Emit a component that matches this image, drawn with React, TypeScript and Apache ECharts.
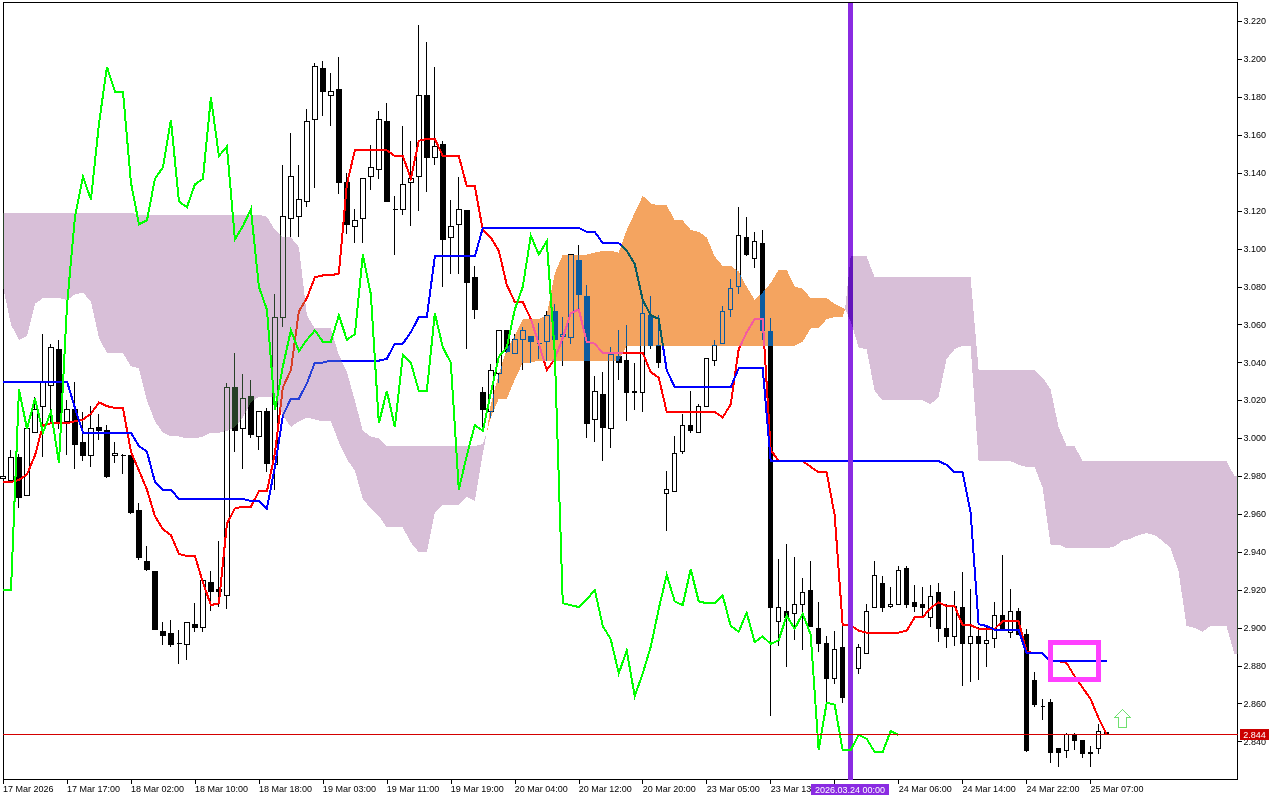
import React, { useEffect, useRef } from "react";
import * as echarts from "echarts";

const opens = [
  2.978, 2.977, 2.989, 2.969, 3.002, 3.016, 3.027, 3.046, 3.008, 3.014,
  2.997, 2.990, 3.005, 3.003, 2.990, 2.990, 2.990, 2.961, 2.934, 2.929,
  2.897, 2.896, 2.891, 2.890, 2.901, 2.899, 2.923, 2.919, 2.916, 3.026,
  3.004, 3.021, 3.000, 3.013, 2.985, 3.063, 3.115, 3.116, 3.124, 3.167,
  3.194, 3.180, 3.183, 3.134, 3.111, 3.115, 3.137, 3.141, 3.166, 3.120,
  3.120, 3.134, 3.137, 3.180, 3.147, 3.154, 3.105, 3.112, 3.119, 3.084,
  3.023, 3.013, 3.033, 3.056, 3.044, 3.051, 3.053, 3.049, 3.050, 3.066,
  3.053, 3.052, 3.093, 3.074, 3.009, 3.022, 3.004, 3.042, 3.040, 3.023,
  3.023, 3.064, 3.048, 2.970, 2.971, 2.992, 3.006, 3.002, 3.016, 3.040,
  3.049, 3.067, 3.079, 3.105, 3.094, 3.102, 3.056, 2.903, 2.908, 2.907,
  2.912, 2.919, 2.899, 2.891, 2.873, 2.889, 2.864, 2.878, 2.886, 2.910,
  2.923, 2.911, 2.912, 2.931, 2.913, 2.912, 2.905, 2.918, 2.899, 2.895,
  2.910, 2.891, 2.895, 2.891, 2.894, 2.906, 2.897, 2.908, 2.896, 2.872,
  2.858, 2.860, 2.836, 2.835, 2.843, 2.840, 2.833, 2.836, 2.845,
];
const highs = [
  2.979, 2.993, 2.991, 3.004, 3.021, 3.054, 3.049, 3.051, 3.019, 3.029,
  3.013, 3.016, 3.012, 3.006, 2.997, 2.991, 2.990, 2.965, 2.942, 2.929,
  2.902, 2.903, 2.898, 2.902, 2.912, 2.924, 2.929, 2.945, 3.028, 3.044,
  3.033, 3.030, 3.013, 3.015, 3.075, 3.143, 3.160, 3.143, 3.173, 3.197,
  3.198, 3.192, 3.200, 3.139, 3.120, 3.136, 3.154, 3.172, 3.176, 3.127,
  3.164, 3.156, 3.217, 3.208, 3.195, 3.156, 3.125, 3.137, 3.119, 3.090,
  3.026, 3.038, 3.056, 3.056, 3.054, 3.058, 3.053, 3.060, 3.066, 3.070,
  3.063, 3.096, 3.101, 3.080, 3.032, 3.034, 3.047, 3.056, 3.059, 3.039,
  3.074, 3.074, 3.064, 2.982, 3.000, 3.012, 3.024, 3.017, 3.041, 3.051,
  3.069, 3.083, 3.121, 3.116, 3.108, 3.109, 3.063, 2.936, 2.944, 2.937,
  2.926, 2.935, 2.913, 2.895, 2.898, 2.901, 2.870, 2.891, 2.912, 2.935,
  2.927, 2.921, 2.932, 2.932, 2.922, 2.921, 2.922, 2.923, 2.912, 2.919,
  2.929, 2.920, 2.900, 2.901, 2.913, 2.938, 2.920, 2.910, 2.899, 2.876,
  2.862, 2.862, 2.836, 2.844, 2.844, 2.840, 2.837, 2.849, 2.845,
];
const lows = [
  2.978, 2.977, 2.962, 2.969, 3.002, 2.989, 3.007, 3.004, 2.990, 2.983,
  2.987, 2.984, 2.998, 2.978, 2.986, 2.980, 2.959, 2.935, 2.929, 2.898,
  2.890, 2.889, 2.880, 2.882, 2.897, 2.897, 2.908, 2.910, 2.909, 2.992,
  2.983, 2.999, 2.993, 2.981, 2.972, 3.058, 3.105, 3.105, 3.121, 3.131,
  3.169, 3.164, 3.128, 3.107, 3.102, 3.102, 3.130, 3.136, 3.124, 3.096,
  3.117, 3.111, 3.119, 3.129, 3.143, 3.079, 3.086, 3.086, 3.046, 3.062,
  3.005, 3.010, 3.028, 3.044, 3.044, 3.035, 3.039, 3.041, 3.040, 3.032,
  3.037, 3.049, 3.067, 2.999, 2.997, 2.987, 2.994, 3.030, 3.008, 3.014,
  3.013, 3.046, 3.036, 2.950, 2.971, 2.991, 3.002, 3.002, 3.016, 3.037,
  3.049, 3.063, 3.075, 3.095, 3.089, 3.051, 2.853, 2.890, 2.879, 2.893,
  2.888, 2.900, 2.887, 2.860, 2.870, 2.860, 2.860, 2.875, 2.886, 2.910,
  2.908, 2.910, 2.912, 2.910, 2.908, 2.905, 2.900, 2.892, 2.889, 2.890,
  2.869, 2.871, 2.872, 2.879, 2.889, 2.898, 2.894, 2.896, 2.834, 2.858,
  2.851, 2.828, 2.826, 2.831, 2.835, 2.831, 2.826, 2.833, 2.844,
];
const closes = [
  2.979, 2.989, 2.968, 3.004, 3.014, 3.029, 3.047, 3.008, 3.014, 2.996,
  2.990, 3.004, 3.003, 2.979, 2.991, 2.990, 2.960, 2.936, 2.930, 2.898,
  2.895, 2.890, 2.891, 2.902, 2.899, 2.924, 2.918, 2.918, 3.026, 3.003,
  3.020, 3.001, 3.013, 2.986, 3.063, 3.116, 3.137, 3.125, 3.166, 3.195,
  3.182, 3.182, 3.134, 3.112, 3.114, 3.136, 3.142, 3.167, 3.124, 3.120,
  3.133, 3.136, 3.180, 3.147, 3.153, 3.104, 3.111, 3.120, 3.081, 3.067,
  3.014, 3.035, 3.056, 3.045, 3.051, 3.056, 3.050, 3.049, 3.064, 3.051,
  3.054, 3.096, 3.075, 3.007, 3.024, 3.005, 3.043, 3.039, 3.023, 3.024,
  3.065, 3.048, 3.039, 2.972, 2.991, 3.006, 3.003, 3.016, 3.041, 3.048,
  3.066, 3.078, 3.106, 3.096, 3.103, 3.056, 2.910, 2.910, 2.905, 2.912,
  2.918, 2.900, 2.891, 2.873, 2.888, 2.863, 2.868, 2.889, 2.908, 2.927,
  2.910, 2.912, 2.930, 2.912, 2.911, 2.910, 2.916, 2.899, 2.895, 2.911,
  2.891, 2.895, 2.891, 2.893, 2.906, 2.898, 2.908, 2.896, 2.835, 2.859,
  2.858, 2.834, 2.834, 2.843, 2.840, 2.833, 2.834, 2.845, 2.844,
];

const tenkan = [
  2.976, 2.976, 2.977, 2.980, 2.990, 3.006, 3.007, 3.007, 3.007, 3.008,
  3.009, 3.012, 3.018, 3.016, 3.015, 3.015, 2.992, 2.982, 2.972, 2.958,
  2.951, 2.948, 2.938, 2.937, 2.937, 2.923, 2.911, 2.912, 2.954, 2.962,
  2.963, 2.963, 2.971, 2.971, 2.991, 3.026, 3.035, 3.066, 3.073, 3.084,
  3.085, 3.085, 3.086, 3.133, 3.151, 3.151, 3.151, 3.151, 3.151, 3.148,
  3.148, 3.136, 3.156, 3.157, 3.157, 3.148, 3.148, 3.148, 3.132, 3.132,
  3.109, 3.105, 3.098, 3.080, 3.071, 3.071, 3.062, 3.049, 3.035, 3.041,
  3.052, 3.065, 3.067, 3.050, 3.049, 3.044, 3.044, 3.044, 3.044, 3.044,
  3.044, 3.034, 3.031, 3.013, 3.013, 3.013, 3.013, 3.013, 3.013, 3.013,
  3.010, 3.017, 3.046, 3.055, 3.062, 3.062, 2.993, 2.987, 2.987, 2.987,
  2.987, 2.984, 2.981, 2.981, 2.959, 2.901, 2.901, 2.898, 2.897, 2.897,
  2.897, 2.897, 2.897, 2.898, 2.905, 2.905, 2.910, 2.913, 2.911, 2.911,
  2.901, 2.901, 2.899, 2.899, 2.899, 2.903, 2.903, 2.903, 2.887, 2.886,
  2.886, 2.882, 2.882, 2.881, 2.874, 2.868, 2.862, 2.852, 2.844,
];

const kijun = [
  3.029, 3.029, 3.029, 3.029, 3.029, 3.029, 3.029, 3.029, 3.029, 3.015,
  3.002, 3.002, 3.002, 3.002, 3.002, 3.002, 3.002, 2.995, 2.992, 2.976,
  2.972, 2.972, 2.967, 2.967, 2.967, 2.967, 2.967, 2.967, 2.967, 2.967,
  2.967, 2.966, 2.966, 2.962, 2.984, 3.011, 3.020, 3.020, 3.028, 3.039,
  3.039, 3.040, 3.040, 3.040, 3.040, 3.040, 3.040, 3.040, 3.041, 3.049,
  3.049, 3.055, 3.063, 3.063, 3.095, 3.095, 3.095, 3.095, 3.095, 3.095,
  3.110, 3.110, 3.110, 3.110, 3.110, 3.110, 3.110, 3.110, 3.110, 3.110,
  3.110, 3.110, 3.110, 3.108, 3.108, 3.102, 3.102, 3.102, 3.098, 3.091,
  3.072, 3.064, 3.062, 3.035, 3.026, 3.026, 3.026, 3.026, 3.026, 3.026,
  3.026, 3.026, 3.036, 3.036, 3.036, 3.036, 2.987, 2.987, 2.987, 2.987,
  2.987, 2.987, 2.987, 2.987, 2.987, 2.987, 2.987, 2.987, 2.987, 2.987,
  2.987, 2.987, 2.987, 2.987, 2.987, 2.987, 2.987, 2.987, 2.985, 2.981,
  2.981, 2.960, 2.901, 2.900, 2.898, 2.898, 2.898, 2.898, 2.886, 2.886,
  2.886, 2.882, 2.882, 2.882, 2.882, 2.882, 2.882, 2.882, 2.882,
];

const chikou = [
  2.919, 2.919, 3.025, 3.004, 3.020, 3.002, 3.013, 2.986, 3.069, 3.116,
  3.137, 3.125, 3.165, 3.195, 3.182, 3.182, 3.134, 3.112, 3.114, 3.136,
  3.142, 3.167, 3.124, 3.121, 3.133, 3.136, 3.179, 3.148, 3.153, 3.104,
  3.111, 3.120, 3.079, 3.067, 3.014, 3.037, 3.056, 3.045, 3.051, 3.056,
  3.050, 3.050, 3.064, 3.051, 3.054, 3.096, 3.075, 3.007, 3.024, 3.005,
  3.043, 3.039, 3.024, 3.024, 3.065, 3.047, 3.039, 2.972, 2.990, 3.006,
  3.003, 3.023, 3.042, 3.047, 3.067, 3.079, 3.106, 3.096, 3.103, 3.044,
  2.912, 2.911, 2.910, 2.914, 2.919, 2.900, 2.893, 2.875, 2.887, 2.863,
  2.875, 2.889, 2.909, 2.927, 2.913, 2.911, 2.930, 2.913, 2.912, 2.912,
  2.916, 2.900, 2.897, 2.907, 2.892, 2.895, 2.891, 2.893, 2.906, 2.899,
  2.907, 2.896, 2.835, 2.860, 2.859, 2.835, 2.835, 2.843, 2.841, 2.834,
  2.834, 2.845, 2.843,
];

const cloudUpper = [
  3.118, 3.118, 3.118, 3.118, 3.118, 3.118, 3.118, 3.118, 3.118, 3.118,
  3.118, 3.118, 3.118, 3.118, 3.118, 3.118, 3.118, 3.117, 3.117, 3.117,
  3.117, 3.117, 3.117, 3.117, 3.117, 3.117, 3.117, 3.117, 3.117, 3.117,
  3.117, 3.117, 3.117, 3.116, 3.109, 3.105, 3.105, 3.100, 3.064, 3.057,
  3.057, 3.057, 3.043, 3.034, 3.019, 3.003, 3.000, 2.999, 2.995, 2.995,
  2.995, 2.995, 2.995, 2.995, 2.995, 2.995, 2.995, 2.995, 2.995, 2.995,
  2.996, 3.017, 3.033, 3.046, 3.053, 3.062, 3.062, 3.062, 3.064, 3.086,
  3.096, 3.096, 3.096, 3.096, 3.097, 3.098, 3.098, 3.097, 3.109, 3.118,
  3.127, 3.123, 3.122, 3.122, 3.114, 3.114, 3.109, 3.108, 3.105, 3.095,
  3.090, 3.090, 3.087, 3.079, 3.072, 3.076, 3.081, 3.088, 3.088, 3.079,
  3.078, 3.073, 3.073, 3.073, 3.070, 3.068, 3.095, 3.095, 3.095, 3.084,
  3.084, 3.084, 3.084, 3.084, 3.084, 3.084, 3.084, 3.084, 3.084, 3.084,
  3.084, 3.084, 3.035, 3.035, 3.035, 3.035, 3.035, 3.035, 3.035, 3.035,
  3.031, 3.025, 3.005, 2.995, 2.995, 2.987, 2.987, 2.987, 2.987, 2.987,
  2.987, 2.987, 2.987, 2.987, 2.987, 2.987, 2.987, 2.987, 2.987, 2.987,
  2.987, 2.987, 2.987, 2.987, 2.979,
];
const cloudLower = [
  3.079, 3.059, 3.051, 3.053, 3.070, 3.073, 3.073, 3.073, 3.072, 3.075,
  3.076, 3.071, 3.052, 3.044, 3.044, 3.044, 3.037, 3.036, 3.019, 3.008,
  3.002, 3.000, 3.000, 2.999, 2.999, 3.000, 3.002, 3.002, 3.003, 3.005,
  3.010, 3.018, 3.021, 3.021, 3.021, 3.011, 3.005, 3.008, 3.010, 3.009,
  3.008, 3.008, 2.997, 2.988, 2.982, 2.967, 2.962, 2.958, 2.952, 2.952,
  2.952, 2.944, 2.939, 2.939, 2.960, 2.964, 2.964, 2.964, 2.968, 2.966,
  2.991, 3.010, 3.020, 3.020, 3.030, 3.039, 3.039, 3.040, 3.040, 3.040,
  3.040, 3.040, 3.040, 3.040, 3.040, 3.040, 3.040, 3.040, 3.048, 3.048,
  3.048, 3.048, 3.048, 3.048, 3.048, 3.048, 3.048, 3.048, 3.048, 3.048,
  3.048, 3.048, 3.048, 3.048, 3.048, 3.048, 3.048, 3.048, 3.048, 3.048,
  3.050, 3.057, 3.057, 3.062, 3.063, 3.063, 3.061, 3.047, 3.046, 3.024,
  3.019, 3.019, 3.019, 3.019, 3.019, 3.019, 3.017, 3.021, 3.041, 3.046,
  3.048, 3.048, 2.987, 2.987, 2.987, 2.987, 2.987, 2.985, 2.984, 2.984,
  2.973, 2.943, 2.943, 2.941, 2.941, 2.941, 2.941, 2.941, 2.941, 2.942,
  2.945, 2.946, 2.948, 2.949, 2.948, 2.945, 2.941, 2.929, 2.900, 2.899,
  2.897, 2.900, 2.900, 2.900, 2.885,
];

// Where the two senkou spans cross: [bar position, price]
const cloudCrossOne = [60.5, 3.003];
const cloudCrossTwo = [105.3, 3.068];

const xTickBars = [0, 8, 16, 24, 32, 40, 48, 56, 64, 72, 80, 88, 96, 104, 112, 120, 128, 136];
const xTickLabels = [
  "17 Mar 2026", "17 Mar 17:00", "18 Mar 02:00", "18 Mar 10:00", "18 Mar 18:00", "19 Mar 03:00",
  "19 Mar 11:00", "19 Mar 19:00", "20 Mar 04:00", "20 Mar 12:00", "20 Mar 20:00", "23 Mar 05:00",
  "23 Mar 13:00", "", "24 Mar 06:00", "24 Mar 14:00", "24 Mar 22:00", "25 Mar 07:00",
];
const yTicks = [
  2.84, 2.86, 2.88, 2.9, 2.92, 2.94, 2.96, 2.98, 3.0, 3.02,
  3.04, 3.06, 3.08, 3.1, 3.12, 3.14, 3.16, 3.18, 3.2, 3.22,
];

const lastPrice = 2.844;
const eventBar = 106;
const eventLabel = "2026.03.24 00:00";

const GRID_LEFT = 2.5;
const GRID_TOP = 2.5;
const GRID_W = 1235;
const GRID_H = 777;
const X_MAX = GRID_W / 8;
const FONT = '"Liberation Sans", Arial, sans-serif';
const ORANGE_XOR = "#0b5b9f"; // difference with white gives #F4A460
const THISTLE_XOR = "#274027"; // difference with white gives #D8BFD8

// The readings above were taken slightly low against the price scale; these are the reading corrections.
const candleFix = (i: number) => (i < 96 ? 0.001 : i < 138 ? 0.0005 : 0);
const tenkanFix = (i: number) => (i < 104 ? 0.001 : i < 138 ? 0.0005 : 0);
const kijunFix = (i: number) => (i < 128 ? 0.001 : 0.0005);
const chikouFix = (i: number) => (i < 94 ? 0.001 : 0.0005);
const cloudFix = 0.001;

const candleData = opens.map((o, i) => {
  const f = candleFix(i);
  return [i, o + f, closes[i] + f, lows[i] + f, highs[i] + f];
});
const lineData = (values: number[], fix: (i: number) => number) => values.map((v, i) => [i, v + fix(i)]);

const cloudChunks = [
  { from: 0, to: 60, fill: THISTLE_XOR, head: null as number[] | null, tail: cloudCrossOne as number[] | null },
  { from: 61, to: 105, fill: ORANGE_XOR, head: cloudCrossOne as number[] | null, tail: cloudCrossTwo as number[] | null },
  { from: 106, to: 154, fill: THISTLE_XOR, head: cloudCrossTwo as number[] | null, tail: null as number[] | null },
];

function renderCloud(params: any, api: any) {
  const c = cloudChunks[params.dataIndex];
  const pts: number[][] = [];
  if (c.head) pts.push(api.coord(c.head));
  for (let i = c.from; i <= c.to; i++) pts.push(api.coord([i, cloudUpper[i] + cloudFix]));
  if (c.tail) pts.push(api.coord(c.tail));
  else {
    pts.push(api.coord([X_MAX, cloudUpper[c.to] + cloudFix]));
    pts.push(api.coord([X_MAX, cloudLower[c.to] + cloudFix]));
  }
  for (let i = c.to; i >= c.from; i--) pts.push(api.coord([i, cloudLower[i] + cloudFix]));
  return { type: "polygon", shape: { points: pts }, style: { fill: c.fill } };
}

function renderPriceLine(_params: any, api: any) {
  const p = api.coord([0, lastPrice]);
  const y = Math.floor(p[1]) + 0.5;
  return {
    type: "line",
    shape: { x1: GRID_LEFT, y1: y, x2: GRID_LEFT + GRID_W, y2: y },
    style: { stroke: "#d40000", lineWidth: 1 },
  };
}

export default function App() {
  const ref = useRef<HTMLDivElement>(null);
  useEffect(() => {
    document.body.style.margin = "0";
    const chart = echarts.init(ref.current!, undefined, { renderer: "svg" });
    const lineSeries = (name: string, values: number[], fix: (i: number) => number, color: string, z: number) => ({
      type: "line",
      name,
      data: lineData(values, fix),
      showSymbol: false,
      symbol: "none",
      z,
      silent: true,
      lineStyle: { color, width: 2, join: "miter" },
    });
    chart.setOption({
      animation: false,
      backgroundColor: "#ffffff",
      grid: {
        left: GRID_LEFT,
        top: GRID_TOP,
        width: GRID_W,
        height: GRID_H,
        show: true,
        borderColor: "#000",
        borderWidth: 1,
        containLabel: false,
      },
      xAxis: {
        type: "value",
        min: 0,
        max: X_MAX,
        splitLine: { show: false },
        axisLine: { show: true, lineStyle: { color: "#000", width: 1 }, onZero: false },
        axisTick: { show: true, length: 4, inside: false, lineStyle: { color: "#000" }, customValues: xTickBars },
        axisLabel: {
          show: true,
          customValues: xTickBars.filter((_, i) => xTickLabels[i] !== ""),
          formatter: (v: number) => xTickLabels[xTickBars.indexOf(v)] ?? "",
          align: "left",
          margin: 5,
          color: "#000",
          fontFamily: FONT,
          fontSize: 9,
          hideOverlap: false,
        },
      },
      yAxis: {
        type: "value",
        position: "right",
        min: 2.82,
        max: 3.23,
        scale: true,
        splitLine: { show: false },
        axisLine: { show: true, lineStyle: { color: "#000", width: 1 }, onZero: false },
        axisTick: { show: true, length: 4, lineStyle: { color: "#000" }, customValues: yTicks },
        axisLabel: {
          show: true,
          customValues: yTicks,
          formatter: (v: number) => v.toFixed(3),
          margin: 6,
          color: "#000",
          fontFamily: FONT,
          fontSize: 9,
        },
      },
      series: [
        {
          type: "candlestick",
          name: "Price",
          data: candleData,
          encode: { x: 0, y: [1, 2, 3, 4] },
          barWidth: 5,
          z: 2,
          silent: true,
          itemStyle: {
            color: "#ffffff",
            color0: "#000000",
            borderColor: "#000000",
            borderColor0: "#000000",
            borderColorDoji: "#000000",
            borderWidth: 1,
          },
        },
        lineSeries("Tenkan-sen", tenkan, tenkanFix, "#ff0000", 3),
        lineSeries("Kijun-sen", kijun, kijunFix, "#0000ff", 4),
        {
          type: "custom",
          name: "Kumo",
          renderItem: renderCloud,
          clip: false,
          data: cloudChunks.map((c) => [c.from, cloudUpper[c.from]]),
          encode: { x: 0, y: 1 },
          z: 5,
          silent: true,
        },
        lineSeries("Chikou Span", chikou, chikouFix, "#00ff00", 6),
        {
          type: "custom",
          name: "Last price",
          renderItem: renderPriceLine,
          clip: false,
          data: [[0, lastPrice]],
          encode: { x: 0, y: 1 },
          z: 7,
          silent: true,
        },
        {
          type: "line",
          name: "Markers",
          data: [],
          z: 8,
          silent: true,
          markLine: {
            silent: true,
            symbol: "none",
            animation: false,
            label: { show: false },
            data: [{ xAxis: eventBar, lineStyle: { color: "#8a2be2", width: 5, type: "solid" } }],
          },
        },
      ],
      graphic: [
        {
          type: "rect",
          z: 20,
          silent: true,
          shape: { x: 1050.5, y: 642.5, width: 48, height: 37 },
          style: { fill: "none", stroke: "#ff40ff", lineWidth: 5 },
        },
        {
          type: "polygon",
          z: 20,
          silent: true,
          shape: {
            points: [
              [1122.5, 709.5], [1130.5, 717.5], [1126.5, 717.5], [1126.5, 727.5],
              [1118.5, 727.5], [1118.5, 717.5], [1114.5, 717.5],
            ],
          },
          style: { fill: "#ffffff", stroke: "#6fe06f", lineWidth: 1 },
        },
        {
          type: "rect",
          z: 20,
          silent: true,
          shape: { x: 1240, y: 729, width: 29, height: 11 },
          style: { fill: "#cc0000" },
        },
        {
          type: "text",
          z: 21,
          silent: true,
          x: 1254.5,
          y: 734.5,
          style: {
            text: lastPrice.toFixed(3),
            fill: "#ffffff",
            font: `9px ${FONT}`,
            align: "center",
            verticalAlign: "middle",
          },
        },
        {
          type: "rect",
          z: 20,
          silent: true,
          shape: { x: 811, y: 784, width: 78, height: 11 },
          style: { fill: "#8a2be2" },
        },
        {
          type: "text",
          z: 21,
          silent: true,
          x: 850,
          y: 789.5,
          style: {
            text: eventLabel,
            fill: "#ffffff",
            font: `9px ${FONT}`,
            align: "center",
            verticalAlign: "middle",
          },
        },
      ],
    });
    const applyBlend = () => {
      ref.current?.querySelectorAll("path").forEach((p) => {
        const el = p as SVGPathElement;
        el.style.shapeRendering = "crispEdges";
        const f = (p.getAttribute("fill") || "").toLowerCase();
        if (f === ORANGE_XOR || f === THISTLE_XOR) {
          el.style.mixBlendMode = "difference";
        }
      });
    };
    applyBlend();
    chart.on("finished", applyBlend);
    return () => chart.dispose();
  }, []);
  return (
    <div
      ref={ref}
      style={{ position: "absolute", left: 0, top: 0, width: 1280, height: 800 }}
    />
  );
}
